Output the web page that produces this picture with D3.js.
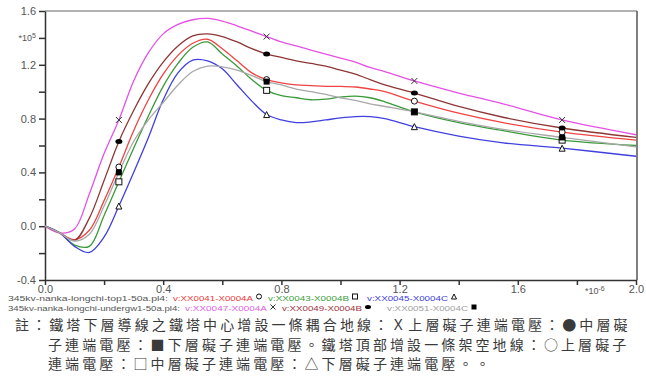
<!DOCTYPE html>
<html>
<head>
<meta charset="utf-8">
<script src="https://cdn.jsdelivr.net/npm/d3@7"></script>
<style>
  body { margin: 0; background: #fff; }
  svg { display: block; }
  .tick text { font-family: 'Liberation Sans', Arial, sans-serif; font-size: 11px; fill: #555; }
</style>
</head>
<body>
<div id="chart"></div>
<script>
// time axis, unit 1e-6 s
const T = [0, 0.05, 0.1, 0.15, 0.2, 0.25, 0.3, 0.35, 0.4, 0.45, 0.5, 0.55, 0.6, 0.65, 0.7,
  0.75, 0.8, 0.85, 0.9, 0.95, 1.0, 1.05, 1.1, 1.15, 1.25, 1.4, 1.55, 1.75, 2.0];

// voltages, unit 1e5 V
const v41 = [0, -0.05, -0.10, -0.03, 0.19, 0.44, 0.71, 0.94, 1.13, 1.27, 1.36, 1.39, 1.32, 1.23, 1.14,
  1.09, 1.065, 1.05, 1.045, 1.04, 1.04, 1.035, 1.02, 1.0, 0.93, 0.84, 0.77, 0.70, 0.64];
const v43 = [0, -0.05, -0.14, -0.15, 0.08, 0.33, 0.58, 0.82, 1.04, 1.21, 1.33, 1.37, 1.28, 1.19, 1.09,
  1.01, 0.97, 0.955, 0.94, 0.945, 0.96, 0.967, 0.955, 0.925, 0.85, 0.77, 0.71, 0.64, 0.60];
const v45 = [0, -0.05, -0.15, -0.195, -0.08, 0.15, 0.40, 0.66, 0.94, 1.14, 1.235, 1.23, 1.17, 1.05, 0.93,
  0.83, 0.79, 0.77, 0.775, 0.79, 0.805, 0.815, 0.815, 0.80, 0.74, 0.67, 0.62, 0.58, 0.52];
const v47 = [0, -0.05, -0.02, 0.24, 0.54, 0.79, 1.08, 1.29, 1.43, 1.50, 1.535, 1.545, 1.525, 1.49, 1.45,
  1.41, 1.37, 1.34, 1.31, 1.28, 1.25, 1.22, 1.18, 1.15, 1.08, 0.99, 0.91, 0.79, 0.68];
const v49 = [0, -0.05, -0.105, 0.06, 0.34, 0.63, 0.86, 1.06, 1.22, 1.34, 1.415, 1.43, 1.41, 1.37, 1.32,
  1.28, 1.255, 1.23, 1.21, 1.19, 1.16, 1.13, 1.09, 1.05, 0.99, 0.89, 0.81, 0.73, 0.66];
const v51 = [0, -0.05, -0.11, -0.06, 0.15, 0.40, 0.63, 0.79, 0.92, 1.05, 1.15, 1.19, 1.185, 1.16, 1.12,
  1.075, 1.05, 1.02, 1.0, 0.98, 0.955, 0.935, 0.91, 0.89, 0.85, 0.78, 0.72, 0.66, 0.59];

// times where the marker symbols sit
const markerTimes = [0.25, 0.75, 1.25, 1.75];

const fileNames = ['345kv-nanka-longchi-top1-50a.pl4:', '345kv-nanka-longchi-undergw1-50a.pl4:'];
const seriesNames = ['v:XX0041-X0004A', 'v:XX0043-X0004B', 'v:XX0045-X0004C',
  'v:XX0047-X0004A', 'v:XX0049-X0004B', 'v:XX0051-X0004C'];

const yTicks = [-0.4, -0.2, 0, 0.2, 0.4, 0.6, 0.8, 1.0, 1.2, 1.4, 1.6];
const yTickLabels = ['-0.4', '', '0.0', '', '0.4', '', '0.8', '', '1.2', '', '1.6'];
const xTicks = [0, 0.2, 0.4, 0.6, 0.8, 1.0, 1.2, 1.4, 1.6, 1.8, 2.0];
const xTickLabels = ['0.0', '', '0.4', '', '0.8', '', '1.2', '', '1.6', '', '2.0'];

const noteLines = [
  '註：鐵塔下層導線之鐵塔中心增設一條耦合地線：Ｘ上層礙子連端電壓：●中層礙',
  '子連端電壓：■下層礙子連端電壓。鐵塔頂部增設一條架空地線：○上層礙子',
  '連端電壓：□中層礙子連端電壓：△下層礙子連端電壓。。'
];

const series = [
  {values: v41, name: seriesNames[0], row: 0, color: '#ee4444', text: '#e83a3a', marker: 'circle'},
  {values: v43, name: seriesNames[1], row: 0, color: '#3a9a3a', text: '#3aa03a', marker: 'square'},
  {values: v45, name: seriesNames[2], row: 0, color: '#4040dd', text: '#4040dd', marker: 'triangle'},
  {values: v47, name: seriesNames[3], row: 1, color: '#e452e4', text: '#e060e0', marker: 'cross'},
  {values: v49, name: seriesNames[4], row: 1, color: '#8e3636', text: '#a03040', marker: 'dot'},
  {values: v51, name: seriesNames[5], row: 1, color: '#a8a8a8', text: '#a0a0a0', marker: 'block'}
];

class LineChart {
  constructor(idSelector, width = 646, height = 376) {
    this._idSelector = idSelector;
    this._width = width;
    this._height = height;
    this._plot = {left: 45, right: 636, top: 11, bottom: 280};
  }

  createChart() {
    this._svg = d3.select(this._idSelector)
      .append('svg')
      .attr('width', this._width)
      .attr('height', this._height);
  }

  createScales() {
    this._x = d3.scaleLinear().domain([0, 2]).range([this._plot.left, this._plot.right]);
    this._y = d3.scaleLinear().domain([-0.4, 1.6]).range([this._plot.bottom, this._plot.top]);
  }

  addAxes() {
    const p = this._plot;

    // frame, top and right
    this._svg.append('line')
      .attr('x1', p.left).attr('x2', p.right + 1)
      .attr('y1', p.top).attr('y2', p.top)
      .attr('stroke', '#999').attr('stroke-width', 1.5);
    this._svg.append('line')
      .attr('x1', p.right + 1).attr('x2', p.right + 1)
      .attr('y1', p.top).attr('y2', p.bottom)
      .attr('stroke', '#555').attr('stroke-width', 1.5);

    const xAxis = this._svg.append('g')
      .attr('transform', 'translate(0,' + p.bottom + ')')
      .call(d3.axisBottom(this._x)
        .tickValues(xTicks)
        .tickSize(5)
        .tickSizeOuter(0)
        .tickFormat((d, i) => xTickLabels[i]));
    xAxis.select('.domain').attr('stroke', '#333').attr('stroke-width', 1.5);
    xAxis.selectAll('.tick line').attr('stroke', '#333').attr('stroke-width', 1.5);
    xAxis.selectAll('.tick text').attr('y', 6).attr('dy', '0.6em');

    const yAxis = this._svg.append('g')
      .attr('transform', 'translate(' + p.left + ',0)')
      .call(d3.axisLeft(this._y)
        .tickValues(yTicks)
        .tickSize(6)
        .tickSizeOuter(0)
        .tickFormat((d, i) => yTickLabels[i]));
    yAxis.select('.domain').attr('stroke', '#333').attr('stroke-width', 1.5);
    yAxis.selectAll('.tick line').attr('stroke', '#333').attr('stroke-width', 1.5);
    yAxis.selectAll('.tick text').attr('x', -9);

    // exponent labels
    const yExp = this._svg.append('text')
      .attr('x', 36)
      .attr('y', this._y(1.4) + 3)
      .attr('text-anchor', 'end')
      .attr('font-family', 'Liberation Sans, Arial, sans-serif')
      .attr('font-size', 9)
      .attr('fill', '#555');
    yExp.append('tspan').text('*10');
    yExp.append('tspan').attr('dy', -3).attr('font-size', 7).text('5');

    const xExp = this._svg.append('text')
      .attr('x', this._x(1.8) + 8)
      .attr('y', p.bottom + 14)
      .attr('font-family', 'Liberation Sans, Arial, sans-serif')
      .attr('font-size', 9)
      .attr('fill', '#555');
    xExp.append('tspan').text('*10');
    xExp.append('tspan').attr('dy', -3).attr('font-size', 7).text('-6');
  }

  addLines() {
    const line = d3.line()
      .x((d, i) => this._x(T[i]))
      .y(d => this._y(d))
      .curve(d3.curveCatmullRom.alpha(0.5));

    this._svg.append('g')
      .selectAll('path')
      .data(series)
      .enter()
      .append('path')
      .attr('fill', 'none')
      .attr('stroke', d => d.color)
      .attr('stroke-width', 1.3)
      .attr('stroke-linejoin', 'round')
      .attr('d', d => line(d.values));
  }

  drawMarker(g, type, cx, cy, s) {
    const h = s / 2;
    if (type === 'circle') {
      g.append('circle').attr('cx', cx).attr('cy', cy).attr('r', h)
        .attr('fill', '#fff').attr('stroke', '#111').attr('stroke-width', 1);
    } else if (type === 'square') {
      g.append('rect').attr('x', cx - h).attr('y', cy - h).attr('width', s).attr('height', s)
        .attr('fill', '#fff').attr('stroke', '#111').attr('stroke-width', 1);
    } else if (type === 'triangle') {
      g.append('path')
        .attr('d', `M${cx},${cy - h}L${cx + h},${cy + h}L${cx - h},${cy + h}Z`)
        .attr('fill', '#fff').attr('stroke', '#111').attr('stroke-width', 1);
    } else if (type === 'cross') {
      g.append('path')
        .attr('d', `M${cx - h},${cy - h}L${cx + h},${cy + h}M${cx - h},${cy + h}L${cx + h},${cy - h}`)
        .attr('stroke', '#333').attr('stroke-width', 1);
    } else if (type === 'dot') {
      g.append('ellipse').attr('cx', cx).attr('cy', cy).attr('rx', h + 0.5).attr('ry', h - 0.5)
        .attr('fill', '#000');
    } else if (type === 'block') {
      g.append('rect').attr('x', cx - h).attr('y', cy - h).attr('width', s).attr('height', s)
        .attr('fill', '#000');
    }
  }

  addMarkers() {
    const g = this._svg.append('g');
    series.forEach(s => {
      markerTimes.forEach(t => {
        const i = T.indexOf(t);
        this.drawMarker(g, s.marker, this._x(t), this._y(s.values[i]), 6);
      });
    });
  }

  addLegend() {
    const g = this._svg.append('g')
      .attr('font-family', 'Liberation Sans, Arial, sans-serif')
      .attr('font-size', 7.5);
    const rowY = [298, 308.5];
    const fileWidth = [160, 172];
    const itemX = [[173, 268, 367], [185, 282, 387]];
    const itemW = [[80, 81, 81], [82, 80, 81]];

    fileNames.forEach((f, r) => {
      g.append('text')
        .attr('x', 8).attr('y', rowY[r] + 2.5)
        .attr('textLength', fileWidth[r])
        .attr('lengthAdjust', 'spacingAndGlyphs')
        .attr('fill', '#555')
        .text(f);
    });

    const count = [0, 0];
    series.forEach(s => {
      const r = s.row;
      const k = count[r]++;
      const x0 = itemX[r][k];
      g.append('text')
        .attr('x', x0).attr('y', rowY[r] + 2.5)
        .attr('textLength', itemW[r][k])
        .attr('lengthAdjust', 'spacingAndGlyphs')
        .attr('fill', s.text)
        .text(s.name);
      this.drawMarker(g, s.marker, x0 + itemW[r][k] + 6, rowY[r] - 1.5, 5);
    });
  }

  addNote() {
    const g = this._svg.append('g')
      .attr('font-family', 'Noto Sans CJK TC, sans-serif')
      .attr('font-size', 14)
      .attr('letter-spacing', 3.1)
      .attr('fill', '#3a3a3a');
    const lineX = [15, 48, 48];
    const lineY = [330, 349.5, 369];
    noteLines.forEach((l, i) => {
      g.append('text').attr('x', lineX[i]).attr('y', lineY[i]).text(l);
    });
  }

  render() {
    this.createChart();
    this.createScales();
    this.addAxes();
    this.addLines();
    this.addMarkers();
    this.addLegend();
    this.addNote();
  }
}

new LineChart('#chart').render();
</script>
</body>
</html>
